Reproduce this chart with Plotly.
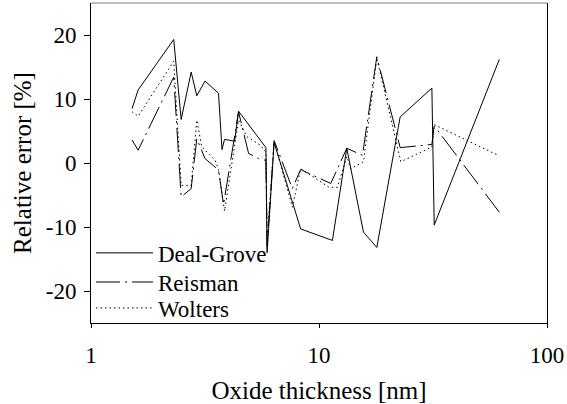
import plotly.graph_objects as go

# Oxide thickness [nm] and relative error [%] for each growth model
dg_thickness = [1.514, 1.609, 2.306, 2.486, 2.750, 2.911, 3.162, 3.625, 3.755, 3.852,
                4.263, 4.438, 5.85, 5.92, 6.357, 8.31, 11.45, 13.24, 15.67, 17.93,
                22.70, 31.27, 32.01, 61.8]
dg_error = [8.5, 11.4, 19.3, 6.8, 14.2, 10.5, 12.8, 10.9, 2.1, 3.7,
            3.4, 8.1, 2.4, -14.0, 3.2, -10.3, -12.1, 2.3, -10.8, -13.2,
            7.2, 11.7, -9.7, 16.2]

reisman_thickness = [1.514, 1.609, 2.306, 2.486, 2.750, 2.911, 3.162, 3.625, 3.813, 4.438,
                     4.911, 5.433, 5.85, 5.92, 6.357, 7.64, 8.31, 8.74, 11.26, 13.24,
                     15.51, 17.93, 22.70, 31.27, 32.01, 61.8]
reisman_error = [3.6, 2.0, 13.4, -5.3, -4.0, 3.8, 0.7, -1.1, -6.5, 8.0,
                 1.5, 0.7, 0.4, -13.0, 3.5, -4.0, -1.0, -1.4, -3.2, 2.3,
                 1.2, 16.6, 2.4, 2.9, 5.8, -7.7]

wolters_thickness = [1.514, 1.609, 2.306, 2.486, 2.750, 2.911, 3.062, 3.506, 3.625, 3.852,
                     4.438, 4.828, 5.527, 5.85, 5.92, 6.357, 7.64, 8.31, 11.07, 12.04,
                     13.24, 13.78, 15.67, 17.93, 22.86, 31.27, 32.01, 61.8]
wolters_error = [8.0, 7.3, 15.9, -3.5, -3.5, 6.7, 2.5, 0.4, -1.0, -7.5,
                 6.7, 4.1, 2.8, 1.7, -12.0, 3.4, -6.9, -0.9, -3.8, -3.8,
                 1.0, -0.9, 0.2, 16.4, 0.2, 2.5, 6.0, 1.1]

y_tick_values = [-20, -10, 0, 10, 20]
y_tick_labels = ["-20", "-10", "0", "10", "20"]
x_tick_values = [1, 10, 100]
x_tick_labels = ["1", "10", "100"]

FONT = "Liberation Serif"
TEXT_SIZE = 23

fig = go.Figure()
fig.add_trace(go.Scatter(x=dg_thickness, y=dg_error, mode="lines", name="Deal-Grove",
                         legend="legend",
                         line=dict(color="black", width=1, dash="solid")))
fig.add_trace(go.Scatter(x=reisman_thickness, y=reisman_error, mode="lines", name="Reisman",
                         legend="legend2",
                         line=dict(color="black", width=1, dash="24px,5px,2px,5px")))
fig.add_trace(go.Scatter(x=wolters_thickness, y=wolters_error, mode="lines", name="Wolters",
                         legend="legend3",
                         line=dict(color="black", width=1, dash="1.5px,3px")))


def legend_box(y):
    return dict(x=0.0, y=y, xanchor="left", yanchor="middle",
                bgcolor="rgba(0,0,0,0)", borderwidth=0, itemwidth=57,
                font=dict(family=FONT, size=TEXT_SIZE, color="black"))


fig.update_layout(
    width=567, height=404,
    margin=dict(l=91, r=20, t=3, b=81),
    paper_bgcolor="white", plot_bgcolor="white",
    font=dict(family=FONT, size=TEXT_SIZE, color="black"),
    showlegend=True,
    legend=legend_box(0.219),
    legend2=legend_box(0.128),
    legend3=legend_box(0.047),
    xaxis=dict(type="log", range=[0, 2], tickvals=x_tick_values, ticktext=x_tick_labels,
               tickfont=dict(family=FONT, size=TEXT_SIZE, color="black"),
               ticks="outside", ticklen=4, tickwidth=1, tickcolor="black",
               showline=True, linecolor="black", linewidth=1, mirror=False,
               showgrid=False, zeroline=False, ticklabelstandoff=7,
               title=dict(text="Oxide thickness [nm]",
                          font=dict(family=FONT, size=25, color="black"), standoff=14)),
    yaxis=dict(range=[-25, 25], tickvals=y_tick_values, ticktext=y_tick_labels,
               tickfont=dict(family=FONT, size=TEXT_SIZE, color="black"),
               ticks="outside", ticklen=6, tickwidth=1, tickcolor="black",
               showline=True, linecolor="black", linewidth=1, mirror=True,
               showgrid=False, zeroline=False, ticklabelstandoff=3,
               title=dict(text="Relative error [%]",
                          font=dict(family=FONT, size=25, color="black"), standoff=6)),
    shapes=[dict(type="line", xref="paper", yref="paper", x0=0, x1=1, y0=1, y1=1,
                 line=dict(color="#808080", width=1))],
)

fig.write_html("out.html")
